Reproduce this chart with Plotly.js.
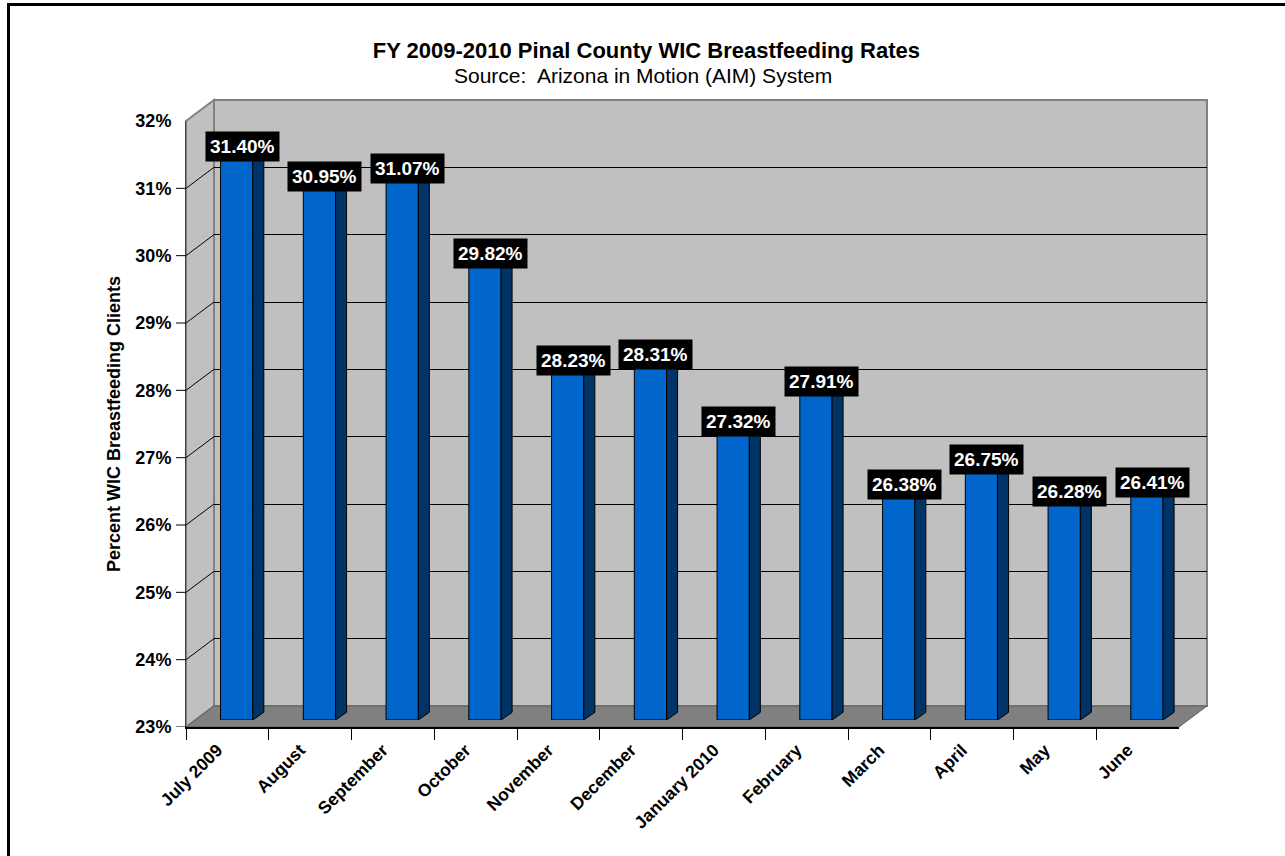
<!DOCTYPE html>
<html>
<head>
<meta charset="utf-8">
<script src="https://cdn.plot.ly/plotly-3.0.1.min.js"></script>
<style>html,body{margin:0;padding:0;background:#fff;}#chart{width:1285px;height:856px;}</style>
</head>
<body>
<div id="chart"></div>
<script>
// ---- data ----
const months = ['July 2009','August','September','October','November','December','January 2010','February','March','April','May','June'];
const rates = [31.40, 30.95, 31.07, 29.82, 28.23, 28.31, 27.32, 27.91, 26.38, 26.75, 26.28, 26.41];
const yTickVals = [23, 24, 25, 26, 27, 28, 29, 30, 31, 32];
const yTickText = ['23%', '24%', '25%', '26%', '27%', '28%', '29%', '30%', '31%', '32%'];
const chartTitle = 'FY 2009-2010 Pinal County WIC Breastfeeding Rates';
const chartSubtitle = 'Source:\u00a0 Arizona in Motion (AIM) System';
const yTitle = 'Percent WIC Breastfeeding Clients';

// ---- geometry (pixels) ----
const W = 1285, H = 856;
const FX0 = 186, FX1 = 1179, FYT = 121, FYB = 727;   // front frame
const DX = 28, DY = 21;                               // full depth offset
const BF = 1/3;                                       // bar depth position
const YMIN = yTickVals[0], YMAX = yTickVals[yTickVals.length-1];
const n = months.length;
const pxPerCat = (FX1 - FX0) / n;
const pxPerUnit = (FYB - FYT) / (YMAX - YMIN);
const SX = 11 / pxPerCat, SY = 7.7 / pxPerUnit;       // bar side depth in data units
const BW = 0.39;                                      // bar width (category units)
const px = x => x / W, py = y => 1 - y / H;
const FONT = 'Arial, "Liberation Sans", sans-serif';

const idx = months.map((m, i) => i);

// side faces & top faces of bars, built from the values
const sideX = [], sideY = [], topX = [], topY = [];
rates.forEach((v, i) => {
  const r = i + BW/2, l = i - BW/2;
  sideX.push(r, r + SX, r + SX, r, r, null);
  sideY.push(YMIN, YMIN + SY, v + SY, v, YMIN, null);
  topX.push(l, r, r + SX, l + SX, l, null);
  topY.push(v, v, v + SY, v + SY, v, null);
});

const traces = [
  // invisible carrier trace for the front category axis
  {type: 'scatter', mode: 'none', x: months, y: rates, xaxis: 'x', yaxis: 'y', hoverinfo: 'skip', showlegend: false},
  {type: 'scatter', mode: 'none', x: idx, y: rates, xaxis: 'x2', yaxis: 'y2', hoverinfo: 'skip', showlegend: false},
  {type: 'bar', x: idx, y: rates.map(v => v - YMIN), base: YMIN, width: BW, xaxis: 'x3', yaxis: 'y3',
   marker: {color: '#0066CC', line: {color: '#000000', width: 1}},
   customdata: months, hovertemplate: '%{customdata}: %{y:.2f}%<extra></extra>', showlegend: false},
  {type: 'scatter', mode: 'lines', x: sideX, y: sideY, fill: 'toself', fillcolor: '#003366',
   line: {color: '#000000', width: 1}, xaxis: 'x3', yaxis: 'y3', hoverinfo: 'skip', showlegend: false},
  {type: 'scatter', mode: 'lines', x: topX, y: topY, fill: 'toself', fillcolor: '#3385D6',
   line: {color: '#000000', width: 1}, xaxis: 'x3', yaxis: 'y3', hoverinfo: 'skip', showlegend: false}
];

// frame shapes
const yF = v => FYB - (v - YMIN) * pxPerUnit;
const P = (x, y) => px(x) + ',' + py(y);
const shapes = [
  // outer border
  {type: 'rect', xref: 'paper', yref: 'paper', x0: px(8.5), x1: px(1300), y0: py(880), y1: py(4.5),
   line: {color: '#000000', width: 3}, fillcolor: 'rgba(0,0,0,0)', layer: 'below'},
  // back wall
  {type: 'rect', xref: 'paper', yref: 'paper', x0: px(FX0 + DX), x1: px(FX1 + DX), y0: py(FYB - DY), y1: py(FYT - DY),
   fillcolor: '#C0C0C0', line: {color: '#808080', width: 2}, layer: 'below'},
  // left wall
  {type: 'path', xref: 'paper', yref: 'paper',
   path: 'M' + P(FX0, FYT) + 'L' + P(FX0 + DX, FYT - DY) + 'L' + P(FX0 + DX, FYB - DY) + 'L' + P(FX0, FYB) + 'Z',
   fillcolor: '#C0C0C0', line: {color: '#808080', width: 2}, layer: 'below'},
  // floor
  {type: 'path', xref: 'paper', yref: 'paper',
   path: 'M' + P(FX0, FYB) + 'L' + P(FX0 + DX, FYB - DY) + 'L' + P(FX1 + DX, FYB - DY) + 'L' + P(FX1, FYB) + 'Z',
   fillcolor: '#808080', line: {color: '#606060', width: 1}, layer: 'below'}
];
// left-wall grid diagonals
yTickVals.slice(1, -1).forEach(v => {
  shapes.push({type: 'line', xref: 'paper', yref: 'paper', x0: px(FX0), y0: py(yF(v)), x1: px(FX0 + DX), y1: py(yF(v) - DY),
    line: {color: '#000000', width: 1}, layer: 'below'});
});
// y tick marks (none at the top value)
yTickVals.slice(0, -1).forEach(v => {
  shapes.push({type: 'line', xref: 'paper', yref: 'y', x0: px(FX0 - 10), x1: px(FX0), y0: v, y1: v,
    line: {color: '#000000', width: 1}, layer: 'above'});
});

// value labels
const annotations = rates.map((v, i) => ({
  xref: 'x3', yref: 'y3', x: i + SX/2, y: v + SY, text: v.toFixed(2) + '%', showarrow: false,
  bgcolor: '#000000', borderpad: 4, font: {family: FONT, size: 19, color: '#FFFFFF', weight: 'bold'}
}));
// subtitle
annotations.push({xref: 'paper', yref: 'paper', x: 0.5, y: py(76), xanchor: 'center', yanchor: 'middle',
  text: chartSubtitle, showarrow: false, font: {family: FONT, size: 21, color: '#000000'}});

const layout = {
  width: W, height: H,
  margin: {l: 0, r: 0, t: 0, b: 0},
  paper_bgcolor: '#FFFFFF', plot_bgcolor: 'rgba(0,0,0,0)',
  showlegend: false,
  font: {family: FONT, color: '#000000'},
  title: {text: '<b>' + chartTitle + '</b>', x: 0.503, xanchor: 'center',
          yref: 'container', y: 1 - 50/H, yanchor: 'middle', font: {family: FONT, size: 22, color: '#000000'}},
  xaxis: {domain: [px(FX0), px(FX1)], anchor: 'y', type: 'category', categoryorder: 'array', categoryarray: months,
          range: [-0.5, n - 0.5], tickson: 'boundaries', ticks: 'outside', ticklen: 11, tickcolor: '#000000', tickwidth: 1,
          tickangle: -45, ticklabelshift: -10, ticklabelstandoff: 4,
          tickfont: {family: FONT, size: 17.5, weight: 'bold'}, showline: true, linecolor: '#000000', linewidth: 2,
          showgrid: false, zeroline: false, fixedrange: true},
  yaxis: {domain: [py(FYB), py(FYT)], anchor: 'x', range: [YMIN, YMAX], tickmode: 'array', tickvals: yTickVals, ticktext: yTickText,
          ticks: 'outside', ticklen: 10, tickcolor: 'rgba(0,0,0,0)', tickwidth: 1, showline: true, linecolor: '#404040', linewidth: 1,
          tickfont: {family: FONT, size: 18, weight: 'bold'}, showgrid: false, zeroline: false, fixedrange: true,
          title: {text: yTitle, standoff: 10, font: {family: FONT, size: 18, weight: 'bold'}}},
  xaxis2: {domain: [px(FX0 + DX), px(FX1 + DX)], anchor: 'y2', range: [-0.5, n - 0.5], visible: false, fixedrange: true},
  yaxis2: {domain: [py(FYB - DY), py(FYT - DY)], anchor: 'x2', range: [YMIN, YMAX], tickmode: 'array', tickvals: yTickVals.slice(1, -1),
           showgrid: true, gridcolor: '#000000', gridwidth: 1, showticklabels: false, ticks: '', showline: false,
           zeroline: false, fixedrange: true},
  xaxis3: {domain: [px(FX0 + DX*BF), px(FX1 + DX*BF)], anchor: 'y3', range: [-0.5, n - 0.5], visible: false, fixedrange: true},
  yaxis3: {domain: [py(FYB - DY*BF), py(FYT - DY*BF)], anchor: 'x3', range: [YMIN, YMAX], visible: false, fixedrange: true},
  shapes: shapes,
  annotations: annotations
};

Plotly.newPlot('chart', traces, layout, {displayModeBar: false});
</script>
</body>
</html>
